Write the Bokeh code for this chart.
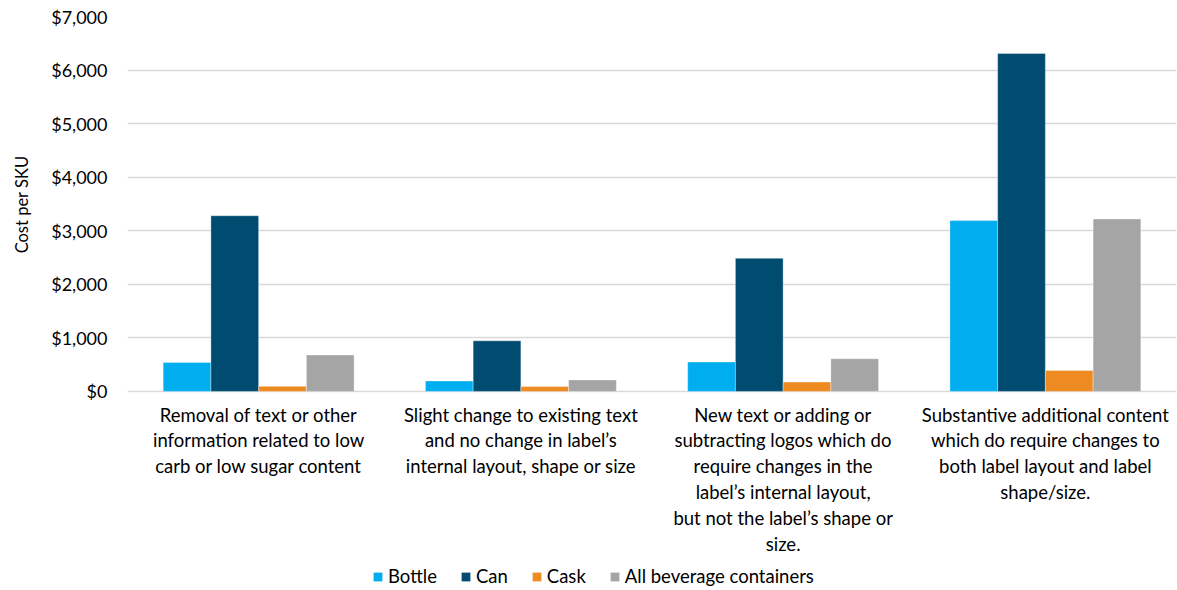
from bokeh.plotting import figure
from bokeh.layouts import column
from bokeh.models import (ColumnDataSource, FactorRange, Range1d, Legend, LegendItem,
                          NumeralTickFormatter, FixedTicker)
from bokeh.core.properties import value
from bokeh.transform import dodge
from bokeh.embed import file_html
from bokeh.resources import INLINE

categories = [
    "Removal of text or other\ninformation related to low\ncarb or low sugar content",
    "Slight change to existing text\nand no change in label\u2019s\ninternal layout, shape or size",
    "New text or adding or\nsubtracting logos which do\nrequire changes in the\nlabel\u2019s internal layout,\nbut not the label\u2019s shape or\nsize.",
    "Substantive additional content\nwhich do require changes to\nboth label layout and label\nshape/size.",
]
series = ["Bottle", "Can", "Cask", "All beverage containers"]
bottle = [540, 195, 550, 3190]
can = [3280, 945, 2485, 6310]
cask = [95, 90, 175, 390]
all_containers = [680, 215, 610, 3220]
y_ticks = [0, 1000, 2000, 3000, 4000, 5000, 6000, 7000]

colors = ["#00AEEF", "#004C70", "#EE8A22", "#A5A5A5"]
FONT = "Lato"

source = ColumnDataSource(dict(
    cat=categories, Bottle=bottle, Can=can, Cask=cask, All=all_containers,
))
cols = ["Bottle", "Can", "Cask", "All"]
x_range = FactorRange(*categories, range_padding=0)

# --- bar chart -------------------------------------------------------------
p = figure(
    width=1177, height=402,
    x_range=x_range, y_range=Range1d(-20, 7000),
    output_backend="svg", toolbar_location=None,
    min_border_left=127, min_border_right=1, min_border_top=16,
    min_border_bottom=10,
)
p.outline_line_color = None
p.background_fill_color = "white"
p.border_fill_color = "white"

bar_w = 0.182
offsets = [-1.5 * bar_w, -0.5 * bar_w, 0.5 * bar_w, 1.5 * bar_w]
for col, off, color in zip(cols, offsets, colors):
    p.vbar(x=dodge("cat", off, range=p.x_range), top=col, width=bar_w,
           source=source, fill_color=color, line_color="#FFFFFF",
           line_alpha=0.35, line_width=1)

p.xaxis.visible = False

p.yaxis.ticker = FixedTicker(ticks=y_ticks)
p.yaxis.formatter = NumeralTickFormatter(format="$0,0")
p.yaxis.axis_line_color = None
p.yaxis.major_tick_line_color = None
p.yaxis.minor_tick_line_color = None
p.yaxis.major_label_text_font = FONT
p.yaxis.major_label_text_font_size = "18px"
p.yaxis.major_label_text_color = "#000000"
p.yaxis.major_label_standoff = 14
p.yaxis.axis_label = "Cost per SKU"
p.yaxis.axis_label_text_font = FONT
p.yaxis.axis_label_text_font_size = "16.5px"
p.yaxis.axis_label_text_font_style = "normal"
p.yaxis.axis_label_text_color = "#000000"
p.yaxis.axis_label_standoff = 16

p.xgrid.grid_line_color = None
p.ygrid.grid_line_color = "#D9D9D9"
p.ygrid.grid_line_width = 1.5

# --- category labels and legend --------------------------------------------
b = figure(
    width=1177, height=188,
    x_range=x_range, y_range=Range1d(0, 188),
    output_backend="svg", toolbar_location=None,
    x_axis_location=None, y_axis_location=None,
    min_border_left=127, min_border_right=1, min_border_top=0,
    min_border_bottom=0,
)
b.outline_line_color = None
b.grid.visible = False
b.background_fill_color = "white"
b.border_fill_color = "white"

b.text(x=categories, y=[187] * len(categories), text=categories,
       text_align="center", text_baseline="top",
       text_font=value(FONT), text_font_size="18.5px", text_color="#000000",
       text_line_height=1.18)

# zero-height proxies that only carry the legend swatch colours
swatches = [b.vbar(x=categories[:1], top=[0], bottom=[0], width=0.01,
                   fill_color=c, line_color=None)
            for c in colors]
legend = Legend(
    items=[LegendItem(label=s, renderers=[r]) for s, r in zip(series, swatches)],
    orientation="horizontal", location=(245, 3),
    label_text_font=FONT, label_text_font_size="18.5px", label_text_color="#000000",
    glyph_width=11, glyph_height=11, label_standoff=5, spacing=23,
    border_line_color=None, background_fill_alpha=0, padding=0, margin=0,
)
b.add_layout(legend, "center")

open("out.html", "w").write(file_html(column(p, b, spacing=0), INLINE))
